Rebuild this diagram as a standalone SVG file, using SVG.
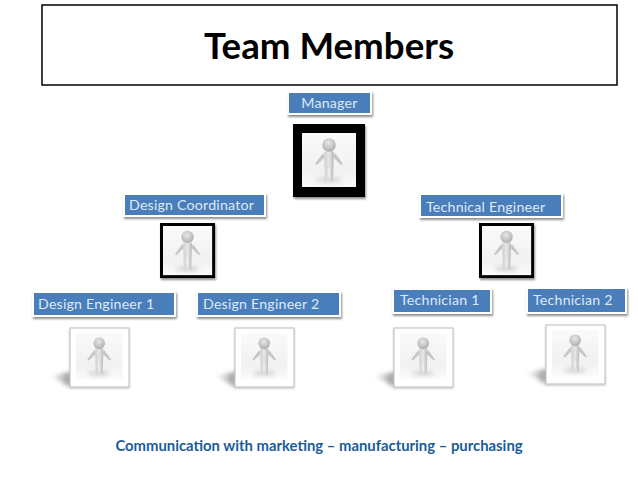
<svg xmlns="http://www.w3.org/2000/svg" width="638" height="479" viewBox="0 0 638 479">
<style>
text{font-family:"Lato","Carlito","Open Sans",sans-serif}
.lb{fill:#4a7ebb;stroke:#fff;stroke-width:2;filter:url(#s)}
.lt{fill:#dfe9f6;font-size:14.2px;letter-spacing:.2px}
.hard{fill:#000;filter:url(#s)}
.soft{fill:#fff;stroke:#bdbdbd;stroke-width:1;filter:url(#t)}
.tail{fill:url(#tailg);filter:url(#b)}
</style>
<defs>
<filter id="s" x="-20%" y="-30%" width="140%" height="170%"><feGaussianBlur in="SourceAlpha" stdDeviation="1.3"/><feOffset dy="1.5" dx="0.5"/><feComponentTransfer><feFuncA type="linear" slope=".45"/></feComponentTransfer><feMerge><feMergeNode/><feMergeNode in="SourceGraphic"/></feMerge></filter>
<filter id="t" x="-20%" y="-20%" width="140%" height="140%"><feGaussianBlur in="SourceAlpha" stdDeviation=".8"/><feOffset dy=".8"/><feComponentTransfer><feFuncA type="linear" slope=".25"/></feComponentTransfer><feMerge><feMergeNode/><feMergeNode in="SourceGraphic"/></feMerge></filter>
<filter id="b" x="-30%" y="-60%" width="160%" height="220%"><feGaussianBlur stdDeviation="2"/></filter>
<filter id="fb" x="-20%" y="-20%" width="140%" height="140%"><feGaussianBlur stdDeviation=".45"/></filter>
<filter id="gb" x="-50%" y="-100%" width="200%" height="300%"><feGaussianBlur stdDeviation="2.5"/></filter>
<linearGradient id="bg" x1="0" y1="0" x2="0" y2="1"><stop offset="0" stop-color="#fafafa"/><stop offset=".7" stop-color="#f1f1f1"/><stop offset="1" stop-color="#fbfbfb"/></linearGradient>
<linearGradient id="tailg" x1="1" y1="0" x2="0" y2="0"><stop offset="0" stop-color="#8a8a8a"/><stop offset="1" stop-color="#ddd" stop-opacity=".2"/></linearGradient>
<radialGradient id="hd" cx=".45" cy=".35" r=".7"><stop offset="0" stop-color="#e8e8e8"/><stop offset="1" stop-color="#a9a9a9"/></radialGradient>
<linearGradient id="bd" x1="0" y1="0" x2="1" y2="0"><stop offset="0" stop-color="#cfcfcf"/><stop offset=".5" stop-color="#e6e6e6"/><stop offset="1" stop-color="#b9b9b9"/></linearGradient>
<g id="fig">
<rect x="0" y="0" width="54" height="54" fill="url(#bg)"/>
<ellipse cx="27" cy="47" rx="13" ry="3" fill="#d5d5d5" filter="url(#gb)"/>
<g filter="url(#fb)">
<path d="M21 20 L13 31 L15 32 L23 24 Z M33 20 L41 31 L39 32 L31 24 Z" fill="#c6c6c6"/>
<path d="M22 19 Q27 16 32 19 L31.500 32 L31 48 L28.500 48 L27.500 35 L26.500 35 L25.500 48 L23 48 L22.500 32 Z" fill="url(#bd)"/>
<ellipse cx="27" cy="12" rx="6.800" ry="6.800" fill="url(#hd)"/>
</g>
</g>
</defs>
<g id="title"><rect x="42" y="5" width="575" height="80" fill="#fff" stroke="#000" stroke-width="1.5"/><text x="329" y="59" text-anchor="middle" font-size="36.700" font-weight="700" fill="#000">Team Members</text></g>
<g id="manager"><rect class="lb" x="288" y="92" width="83" height="22"/><text class="lt" x="329.500" y="108" text-anchor="middle">Manager</text><rect class="hard" x="293" y="124" width="72" height="73"/><use href="#fig" transform="translate(302,133)"/></g>
<g id="design-coordinator"><rect class="lb" x="124" y="194" width="141" height="22"/><text class="lt" x="129" y="210">Design Coordinator</text><rect class="hard" x="160" y="223" width="55" height="55"/><use href="#fig" transform="translate(163,226) scale(.91)"/></g>
<g id="technical-engineer"><rect class="lb" x="420" y="194" width="142" height="23"/><text class="lt" x="426" y="212">Technical Engineer</text><rect class="hard" x="479" y="223" width="55" height="55"/><use href="#fig" transform="translate(482,226) scale(.91)"/></g>
<g id="design-engineer-1"><rect class="lb" x="33" y="292" width="142" height="24"/><text class="lt" x="38" y="309">Design Engineer 1</text><path class="tail" d="M70 372 L50 376 L70 387 Z"/><rect class="soft" x="70" y="328" width="59" height="59"/><use href="#fig" transform="translate(76,333) scale(.86)"/></g>
<g id="design-engineer-2"><rect class="lb" x="197" y="292" width="143" height="24"/><text class="lt" x="203" y="309">Design Engineer 2</text><path class="tail" d="M235 372 L215 376 L235 387 Z"/><rect class="soft" x="235" y="328" width="59" height="59"/><use href="#fig" transform="translate(241,333) scale(.86)"/></g>
<g id="technician-1"><rect class="lb" x="393" y="289" width="98" height="24"/><text class="lt" x="400" y="305">Technician 1</text><path class="tail" d="M394 372 L374 376 L394 387 Z"/><rect class="soft" x="394" y="328" width="59" height="59"/><use href="#fig" transform="translate(400,333) scale(.86)"/></g>
<g id="technician-2"><rect class="lb" x="527" y="288" width="99" height="25"/><text class="lt" x="533" y="305">Technician 2</text><path class="tail" d="M546 369 L526 373 L546 384 Z"/><rect class="soft" x="546" y="325" width="59" height="59"/><use href="#fig" transform="translate(552,330) scale(.86)"/></g>
<g id="footer"><text x="319" y="450.500" text-anchor="middle" font-size="14.850" font-weight="700" fill="#1a5c99">Communication with marketing – manufacturing – purchasing</text></g>
<g id="connectors"></g>
</svg>
